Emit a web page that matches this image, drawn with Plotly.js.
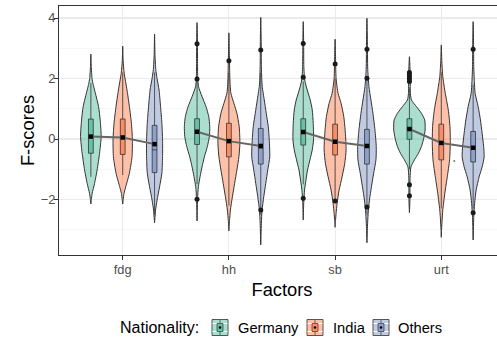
<!DOCTYPE html>
<html>
<head>
<meta charset="utf-8">
<script src="https://cdn.plot.ly/plotly-3.0.1.min.js"></script>
<style>
html,body{margin:0;padding:0;overflow:hidden;background:#fff;}
#chart{width:510px;height:338px;}
</style>
</head>
<body>
<div id="chart"></div>
<script>
// ---------- data ----------
const factors = ['fdg', 'hh', 'sb', 'urt'];
const nationalities = ['Germany', 'India', 'Others'];

// violin density profiles: [F-score, relative half-width], one per factor
const densGermany = [
  [[2.81,0],[2.4,0.4],[2.0,1.2],[1.8,2.3],[1.62,3.7],[1.07,7.7],[0.63,9.3],[0.08,10.3],[-0.47,8.7],[-1.02,6.3],[-1.47,3.7],[-1.8,1.3],[-2.0,0.5],[-2.15,0]],
  [[3.85,0],[3.3,0.4],[2.5,0.5],[2.0,0.7],[1.73,1.5],[1.40,5],[1.07,9],[0.74,11.7],[0.41,12.7],[0.08,12.3],[-0.25,10.3],[-0.59,7.3],[-0.92,5],[-1.25,3],[-1.58,1.3],[-2.0,0.5],[-2.71,0]],
  [[3.88,0],[3.2,0.4],[2.4,0.6],[1.95,1.5],[1.62,4],[1.29,7],[0.96,9],[0.52,10],[-0.03,10.3],[-0.36,9],[-0.69,6.7],[-1.02,4.3],[-1.36,2.7],[-1.69,1.3],[-2.1,0.5],[-2.68,0]],
  [[2.72,0],[2.4,0.5],[2.0,0.8],[1.5,1.0],[1.29,2],[1.07,7],[0.85,12],[0.63,15.3],[0.30,15.7],[0.02,14.3],[-0.25,12],[-0.47,9],[-0.69,5],[-0.92,1.5],[-1.3,0.6],[-2.0,0.5],[-2.44,0]]
];
const densIndia = [
  [[3.07,0],[2.6,0.4],[2.17,1.5],[1.62,4.3],[1.07,6.7],[0.52,8.7],[-0.03,9.7],[-0.59,9.3],[-1.13,6.7],[-1.58,3],[-1.8,1.3],[-2.0,0.5],[-2.15,0]],
  [[3.51,0],[2.9,0.4],[2.2,0.8],[1.8,1.2],[1.51,2],[1.18,5],[0.85,8],[0.41,10.3],[-0.14,11],[-0.59,10],[-1.02,8],[-1.47,5.7],[-1.91,3.5],[-2.35,1.5],[-2.7,0.6],[-3.04,0]],
  [[3.3,0],[2.8,0.4],[2.0,1.0],[1.51,3],[1.18,6],[0.74,8.7],[0.19,10.3],[-0.36,11],[-0.8,9.7],[-1.25,7],[-1.69,4],[-2.13,2],[-2.46,1],[-2.7,0.4],[-2.92,0]],
  [[3.11,0],[2.6,0.5],[2.06,1.5],[1.51,4],[0.96,7],[0.41,8.7],[-0.14,9],[-0.69,8.3],[-1.25,6],[-1.8,3.5],[-2.35,1.5],[-2.68,0.8],[-3.0,0.3],[-3.25,0]]
];
const densOthers = [
  [[3.47,0],[2.8,0.4],[2.3,1.2],[2.0,2.5],[1.62,4.5],[1.07,6],[0.52,7.3],[-0.03,8],[-0.59,8],[-1.13,7.3],[-1.58,5],[-2.02,2.5],[-2.35,1],[-2.6,0.4],[-2.77,0]],
  [[4.02,0],[3.3,0.4],[2.4,0.6],[2.0,1.0],[1.73,1.5],[1.29,3.5],[0.85,5.5],[0.41,7.5],[-0.14,8.7],[-0.59,9],[-1.02,7],[-1.47,5],[-1.91,3],[-2.35,1.3],[-2.8,0.6],[-3.5,0]],
  [[3.99,0],[3.3,0.4],[2.3,0.8],[1.73,2],[1.29,4],[0.85,6],[0.30,8],[-0.25,9.3],[-0.69,9],[-1.13,6.7],[-1.58,4.5],[-2.02,2.5],[-2.46,1.2],[-2.9,0.5],[-3.43,0]],
  [[3.88,0],[3.2,0.4],[2.4,0.6],[1.9,1.2],[1.51,2],[1.07,5],[0.63,7.3],[0.19,9],[-0.25,10.5],[-0.59,11],[-0.92,9],[-1.25,6],[-1.69,3],[-2.13,1.5],[-2.6,0.6],[-3.34,0]]
];

// box statistics per nationality (order: fdg, hh, sb, urt)
const q1Germany  = [-0.47, -0.18, -0.20, -0.01];
const medGermany = [ 0.06,  0.22,  0.20,  0.35];
const q3Germany  = [ 0.66,  0.67,  0.67,  0.67];
const loGermany  = [-1.25, -1.50, -1.50, -1.00];
const hiGermany  = [ 1.85,  1.90,  1.90,  1.70];
const meanGermany= [ 0.08,  0.24,  0.23,  0.33];

const q1India  = [-0.51, -0.59, -0.53, -0.69];
const medIndia = [ 0.04, -0.05, -0.05, -0.10];
const q3India  = [ 0.66,  0.52,  0.49,  0.49];
const loIndia  = [-1.19, -2.20, -2.00, -2.30];
const hiIndia  = [ 2.20,  2.20,  2.00,  2.20];
const meanIndia= [ 0.05, -0.07, -0.09, -0.13];

const q1Others  = [-1.11, -0.83, -0.83, -0.76];
const medOthers = [-0.36, -0.30, -0.28, -0.30];
const q3Others  = [ 0.45,  0.35,  0.32,  0.25];
const loOthers  = [-2.50, -2.50, -2.50, -2.30];
const hiOthers  = [ 2.20,  2.20,  1.95,  1.80];
const meanOthers= [-0.17, -0.23, -0.23, -0.29];

// outliers: factor, nationality, value
const outFactor = ['hh','hh','hh','hh','hh','hh','sb','sb','sb','sb','sb','sb','sb','sb','urt','urt','urt','urt','urt','urt','urt','urt','urt'];
const outNation = ['Germany','Germany','Germany','India','Others','Others','Germany','Germany','Germany','India','India','Others','Others','Others','Germany','Germany','Germany','Germany','Germany','Germany','Germany','Others','Others'];
const outValue  = [3.15,1.98,-1.99,2.59,2.94,-2.35,3.16,2.04,-1.96,2.48,-2.05,2.97,2.01,-2.25,2.2,2.12,2.05,1.98,1.9,-1.51,-1.88,2.97,-2.44];

// ---------- styling / layout ----------
const colors = {Germany:'#66c2a5', India:'#fc8d62', Others:'#8da0cb'};
const fills  = {Germany:'rgba(102,194,165,0.55)', India:'rgba(252,141,98,0.55)', Others:'rgba(141,160,203,0.55)'};
const dodge = {Germany:-0.3, India:0, Others:0.3};
const widthScale = 1/106.2;
const xRange = [0.4, 4.6];
const yRange = [-3.835, 4.397];

const dens = {Germany:densGermany, India:densIndia, Others:densOthers};
const stats = {
  Germany:{q1:q1Germany, med:medGermany, q3:q3Germany, lo:loGermany, hi:hiGermany, mean:meanGermany},
  India:{q1:q1India, med:medIndia, q3:q3India, lo:loIndia, hi:hiIndia, mean:meanIndia},
  Others:{q1:q1Others, med:medOthers, q3:q3Others, lo:loOthers, hi:hiOthers, mean:meanOthers}
};
const pos = (fi, nat) => fi + 1 + dodge[nat];

const traces = [];
nationalities.forEach(nat => {
  factors.forEach((f, fi) => {
    const prof = dens[nat][fi];
    const c = pos(fi, nat);
    const xs = [], ys = [];
    prof.forEach(p => { xs.push(c + p[1]*widthScale); ys.push(p[0]); });
    for (let i = prof.length - 1; i >= 0; i--) { xs.push(c - prof[i][1]*widthScale); ys.push(prof[i][0]); }
    traces.push({
      type:'scatter', mode:'lines', x:xs, y:ys, fill:'toself',
      fillcolor:fills[nat], line:{color:'#333333', width:1, shape:'spline', smoothing:0.6},
      hoverinfo:'skip', showlegend:false, xaxis:'x', yaxis:'y'
    });
  });
});
nationalities.forEach(nat => {
  const s = stats[nat];
  traces.push({
    type:'box', name:nat, x:factors.map((f,fi)=>pos(fi,nat)),
    q1:s.q1, median:s.med, q3:s.q3, lowerfence:s.lo, upperfence:s.hi,
    width:0.045, whiskerwidth:0, boxpoints:false,
    fillcolor:colors[nat], line:{color:'#333333', width:0.8},
    xaxis:'x2', yaxis:'y2', showlegend:false, hoverinfo:'skip'
  });
});
traces.push({
  type:'scatter', mode:'markers',
  x:outFactor.map((f,i)=>pos(factors.indexOf(f), outNation[i])), y:outValue,
  marker:{color:'#1a1a1a', size:5}, showlegend:false, hoverinfo:'skip', xaxis:'x2', yaxis:'y2'
});
traces.push({
  type:'scatter', mode:'markers', x:[4.122], y:[-0.73],
  marker:{color:'#777', size:2}, showlegend:false, hoverinfo:'skip', xaxis:'x2', yaxis:'y2'
});
const mlx = [], mly = [];
factors.forEach((f, fi) => {
  nationalities.forEach(nat => { mlx.push(pos(fi,nat)); mly.push(stats[nat].mean[fi]); });
  mlx.push(null); mly.push(null);
});
traces.push({type:'scatter', mode:'lines', x:mlx, y:mly, line:{color:'#666666', width:2},
  showlegend:false, hoverinfo:'skip', xaxis:'x2', yaxis:'y2', connectgaps:false});
traces.push({type:'scatter', mode:'markers', x:mlx.filter(v=>v!==null), y:mly.filter(v=>v!==null),
  marker:{color:'#000', size:4.5, symbol:'square'}, showlegend:false, hoverinfo:'skip', xaxis:'x2', yaxis:'y2'});

// ---------- manual legend (ggplot style) ----------
const M = {l:59, r:5, t:6, b:83};
const W = 510, H = 338;
const plotW = W - M.l - M.r, plotH = H - M.t - M.b;
const px2x = px => (px - M.l) / plotW;
const py2y = py => (H - M.b - py) / plotH;
const legendY = 327.5;
const keyCenters = {Germany:220, India:315, Others:381};
const labelStarts = {Germany:237, India:332, Others:397};
const font = 'Liberation Sans, Arial, sans-serif';
const legFont = 14.7;

const shapes = [], annotations = [];
annotations.push({xref:'paper', yref:'paper', x:px2x(119), y:py2y(legendY), xanchor:'left', yanchor:'middle',
  text:'Nationality:', showarrow:false, font:{size:16, color:'#000', family:font}, borderpad:0});
nationalities.forEach(nat => {
  const ax = px2x(keyCenters[nat]), ay = py2y(legendY);
  const base = {xref:'paper', yref:'paper', xsizemode:'pixel', ysizemode:'pixel', xanchor:ax, yanchor:ay};
  shapes.push(Object.assign({type:'rect', x0:-8, x1:8, y0:-8, y1:8, fillcolor:fills[nat], line:{color:'#555', width:1}}, base));
  shapes.push(Object.assign({type:'line', x0:-7.5, x1:7.5, y0:4, y1:4, line:{color:'#fff', width:1}}, base));
  shapes.push(Object.assign({type:'line', x0:-7.5, x1:7.5, y0:-4, y1:-4, line:{color:'#fff', width:1}}, base));
  shapes.push(Object.assign({type:'rect', x0:-3, x1:3, y0:-4, y1:4, fillcolor:colors[nat], line:{color:'#333', width:0.7}}, base));
  shapes.push(Object.assign({type:'line', x0:0, x1:0, y0:-7.5, y1:-4, line:{color:'#333', width:0.7}}, base));
  shapes.push(Object.assign({type:'line', x0:0, x1:0, y0:4, y1:7.5, line:{color:'#333', width:0.7}}, base));
  shapes.push(Object.assign({type:'circle', x0:-1.3, x1:1.3, y0:-1.3, y1:1.3, fillcolor:'#000', line:{width:0}}, base));
  annotations.push({xref:'paper', yref:'paper', x:px2x(labelStarts[nat]), y:ay, xanchor:'left', yanchor:'middle',
    text:nat, showarrow:false, font:{size:legFont, color:'#000', family:font}, borderpad:0});
});

const layout = {
  width:W, height:H,
  margin:M,
  paper_bgcolor:'#fff', plot_bgcolor:'#fff',
  font:{family:font, color:'#000'},
  showlegend:false,
  xaxis:{
    range:xRange, type:'linear', tickvals:[1,2,3,4], ticktext:factors,
    ticks:'outside', ticklen:4, tickwidth:1, tickcolor:'#333',
    tickfont:{size:12.8, color:'#4d4d4d'}, ticklabelstandoff:-1,
    showline:true, linecolor:'#333', linewidth:1, mirror:true,
    showgrid:true, gridcolor:'#ebebeb', gridwidth:1.1, zeroline:false,
    title:{text:'Factors', font:{size:18.3, color:'#000'}, standoff:6}
  },
  yaxis:{
    range:yRange, tick0:0, dtick:2,
    ticks:'outside', ticklen:4, tickwidth:1, tickcolor:'#333',
    tickfont:{size:12.8, color:'#4d4d4d'}, ticklabelstandoff:-4,
    showline:true, linecolor:'#333', linewidth:1, mirror:true,
    showgrid:true, gridcolor:'#ebebeb', gridwidth:1.1, zeroline:false,
    minor:{tick0:1, dtick:2, showgrid:true, gridcolor:'#f2f2f2', gridwidth:0.6},
    title:{text:'F-scores', font:{size:18.3, color:'#000'}, standoff:1}
  },
  xaxis2:{range:xRange, overlaying:'x', visible:false, type:'linear'},
  yaxis2:{range:yRange, overlaying:'y', visible:false},
  shapes:shapes, annotations:annotations
};

Plotly.newPlot('chart', traces, layout, {staticPlot:true, displayModeBar:false});
</script>
</body>
</html>
